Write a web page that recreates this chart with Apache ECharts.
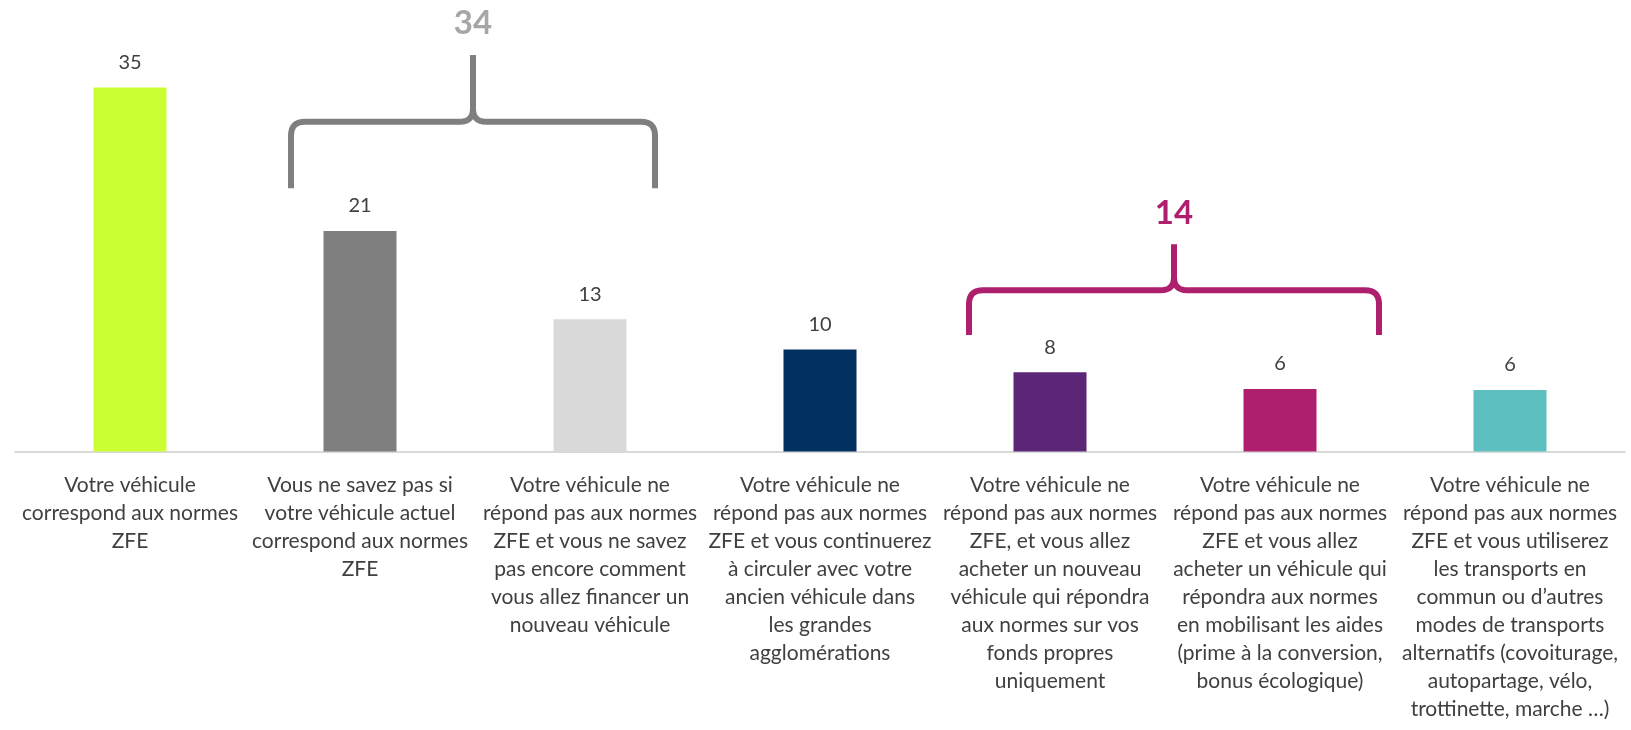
<!DOCTYPE html>
<html>
<head>
<meta charset="utf-8">
<script src="https://cdn.jsdelivr.net/npm/echarts@6/dist/echarts.min.js"></script>
<style>
  html, body { margin: 0; padding: 0; background: #fff; }
  #chart { width: 1631px; height: 730px; }
</style>
</head>
<body>
<div id="chart"></div>
<script>
// categories (line breaks as in the original)
const categories = [
  'Votre véhicule\ncorrespond aux normes\nZFE',
  'Vous ne savez pas si\nvotre véhicule actuel\ncorrespond aux normes\nZFE',
  'Votre véhicule ne\nrépond pas aux normes\nZFE et vous ne savez\npas encore comment\nvous allez financer un\nnouveau véhicule',
  'Votre véhicule ne\nrépond pas aux normes\nZFE et vous continuerez\nà circuler avec votre\nancien véhicule dans\nles grandes\nagglomérations',
  'Votre véhicule ne\nrépond pas aux normes\nZFE, et vous allez\nacheter un nouveau\nvéhicule qui répondra\naux normes sur vos\nfonds propres\nuniquement',
  'Votre véhicule ne\nrépond pas aux normes\nZFE et vous allez\nacheter un véhicule qui\nrépondra aux normes\nen mobilisant les aides\n(prime à la conversion,\nbonus écologique)',
  'Votre véhicule ne\nrépond pas aux normes\nZFE et vous utiliserez\nles transports en\ncommun ou d’autres\nmodes de transports\nalternatifs (covoiturage,\nautopartage, vélo,\ntrottinette, marche …)'
];
// bar heights, labels show them rounded
const values = [35, 21.2, 12.7, 9.8, 7.6, 6.0, 5.9];
const barColors = ['#ccff33', '#7f7f7f', '#d9d9d9', '#023061', '#5b2676', '#ae1f6d', '#5dbfbf'];

// groupings shown with braces: first / last category index and total
const groupFrom = [1, 4];
const groupTo = [2, 5];
const groupTotals = [34, 14];

// brace look (levels in axis units, offsets in px)
const braceStyle = [
  { color: '#7f7f7f', text: '#a6a6a6', bottom: 25.3, mid: 31.7, peak: 38.1, label: 41.2, padL: 69, padR: 65 },
  { color: '#ae1f6d', text: '#ae1f6d', bottom: 11.2, mid: 15.5, peak: 19.9, label: 22.9, padL: 81, padR: 99 }
];

const FONT = 'Lato, "Open Sans", sans-serif';

let chart = echarts.init(document.getElementById('chart'));

chart.setOption({
  animation: false,
  grid: { left: 15, right: 6, top: 35.4, bottom: 278.6, containLabel: false, outerBoundsMode: 'none' },
  xAxis: {
    type: 'category',
    data: categories,
    axisLine: { lineStyle: { color: '#d9d9d9', width: 2 } },
    axisTick: { show: false },
    axisLabel: {
      interval: 0,
      margin: 20,
      color: '#404040',
      fontFamily: FONT,
      fontSize: 21,
      lineHeight: 28,
      align: 'center'
    }
  },
  yAxis: { type: 'value', min: 0, max: 40, show: false, splitLine: { show: false } },
  series: [{
    type: 'bar',
    barWidth: 73,
    data: values.map((v, i) => ({ value: v, itemStyle: { color: barColors[i] } })),
    label: {
      show: true,
      position: 'top',
      distance: 15,
      color: '#404040',
      fontFamily: FONT,
      fontSize: 20,
      formatter: p => Math.round(p.value)
    }
  }]
});

// points along a quadratic curve
function quad(p0, c, p1, n) {
  let pts = [];
  for (let i = 1; i <= n; i++) {
    const t = i / n;
    pts.push([
      (1 - t) * (1 - t) * p0[0] + 2 * (1 - t) * t * c[0] + t * t * p1[0],
      (1 - t) * (1 - t) * p0[1] + 2 * (1 - t) * t * c[1] + t * t * p1[1]
    ]);
  }
  return pts;
}

// one half of the brace, from the outer leg to the top of the stem
function braceHalf(xe, xc, yb, ym, yp) {
  const dir = xc > xe ? 1 : -1;
  const r = 14, r2 = 13;
  let pts = [[xe, yb], [xe, ym + r]];
  pts = pts.concat(quad([xe, ym + r], [xe, ym], [xe + dir * r, ym], 8));
  pts.push([xc - dir * r2, ym]);
  pts = pts.concat(quad([xc - dir * r2, ym], [xc, ym], [xc, ym - r2], 8));
  pts.push([xc, yp]);
  return pts;
}

let graphics = [];
groupTotals.forEach((total, g) => {
  const st = braceStyle[g];
  const cx0 = chart.convertToPixel({ xAxisIndex: 0 }, groupFrom[g]);
  const cx1 = chart.convertToPixel({ xAxisIndex: 0 }, groupTo[g]);
  const x0 = cx0 - st.padL, x1 = cx1 + st.padR, xc = (x0 + x1) / 2;
  const py = v => chart.convertToPixel({ yAxisIndex: 0 }, v);
  [x0, x1].forEach(xe => {
    graphics.push({
      type: 'polyline',
      shape: { points: braceHalf(xe, xc, py(st.bottom), py(st.mid), py(st.peak)) },
      style: { fill: null, stroke: st.color, lineWidth: 6, lineCap: 'butt', lineJoin: 'round' }
    });
  });
  graphics.push({
    type: 'text',
    x: xc,
    y: py(st.label),
    style: {
      text: String(total),
      fill: st.text,
      font: 'bold 33px ' + FONT,
      align: 'center',
      verticalAlign: 'middle'
    }
  });
});
chart.setOption({ graphic: graphics });
</script>
</body>
</html>
